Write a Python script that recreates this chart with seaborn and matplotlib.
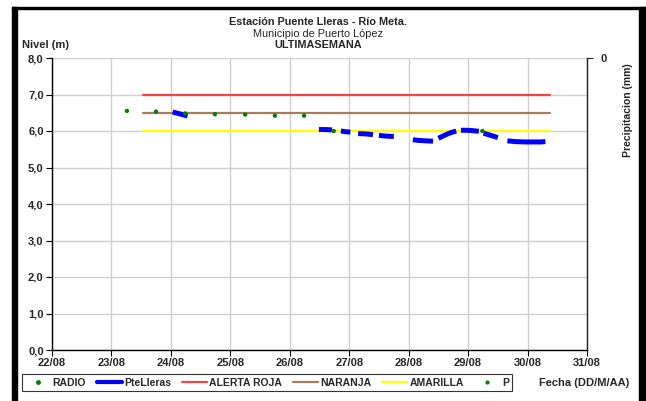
import matplotlib
matplotlib.use("Agg")
import matplotlib.pyplot as plt
import seaborn as sns
import numpy as np
import pandas as pd
from matplotlib.patches import Rectangle
from matplotlib.lines import Line2D
from matplotlib.ticker import FixedLocator, FuncFormatter

sns.set_theme(style="white")
plt.rcParams['font.family'] = ['Liberation Sans', 'DejaVu Sans']

# Lecturas de radio (día de agosto, nivel en m)
radio_dia = [23.26, 23.75, 24.24, 24.74, 25.25, 25.75, 26.24, 26.74, 29.24]
radio_nivel = [6.55, 6.53, 6.48, 6.46, 6.45, 6.42, 6.42, 6.00, 6.00]

# Sensor automático Puente Lleras, por tramos continuos
ptelleras_tramo = [1, 1, 1, 1, 1,
                   2, 2, 2,
                   3, 3, 3,
                   4, 4, 4,
                   5, 5, 5,
                   6, 6, 6, 6,
                   7, 7, 7, 7,
                   8, 8, 8, 8,
                   9, 9, 9,
                   10, 10, 10, 10, 10, 10]
ptelleras_dia = [24.03, 24.10, 24.17, 24.24, 24.28,
                 26.49, 26.60, 26.71,
                 26.86, 26.94, 27.02,
                 27.15, 27.28, 27.40,
                 27.50, 27.62, 27.75,
                 28.07, 28.18, 28.30, 28.41,
                 28.50, 28.60, 28.70, 28.80,
                 28.88, 28.98, 29.08, 29.18,
                 29.26, 29.38, 29.50,
                 29.66, 29.80, 29.95, 30.10, 30.22, 30.30]
ptelleras_nivel = [6.52, 6.49, 6.46, 6.43, 6.41,
                   6.04, 6.04, 6.03,
                   6.00, 5.98, 5.97,
                   5.93, 5.92, 5.90,
                   5.88, 5.86, 5.85,
                   5.76, 5.74, 5.73, 5.72,
                   5.80, 5.88, 5.95, 6.00,
                   6.02, 6.02, 6.01, 5.99,
                   5.94, 5.88, 5.82,
                   5.73, 5.71, 5.70, 5.70, 5.70, 5.71]

# Umbrales de alerta (m) y su periodo de vigencia
umbral_dia = [23.53, 30.38]
alerta_roja = [7.0, 7.0]
naranja = [6.5, 6.5]
amarilla = [6.0, 6.0]

dias_eje = list(range(22, 32))
etiquetas_x = [f"{d}/08" for d in dias_eje]
niveles_eje = [0, 1, 2, 3, 4, 5, 6, 7, 8]

df_radio = pd.DataFrame({"dia": radio_dia, "nivel": radio_nivel})
df_pte = pd.DataFrame({"dia": ptelleras_dia, "nivel": ptelleras_nivel, "tramo": ptelleras_tramo})

W, H = 646, 401
fig = plt.figure(figsize=(W / 100, H / 100), dpi=100)
ax = fig.add_axes([52 / W, 1 - 350 / H, (587 - 52) / W, (350 - 58) / H])

C_ROJA = "#F04545"
C_NAR = "#A67C5B"
C_AMA = "#FFFF00"
C_AZUL = "#0000FF"
C_VERDE = "#0A7A0A"

for vals, col in [(alerta_roja, C_ROJA), (naranja, C_NAR), (amarilla, C_AMA)]:
    sns.lineplot(x=umbral_dia, y=vals, color=col, lw=1.6, ax=ax, zorder=2)

sns.lineplot(data=df_pte, x="dia", y="nivel", units="tramo", estimator=None,
             color=C_AZUL, lw=3.6, ax=ax, zorder=3, solid_capstyle="butt")
sns.scatterplot(data=df_radio, x="dia", y="nivel", color=C_VERDE, s=10,
                edgecolor="none", ax=ax, zorder=4)

ax.set_xlim(22, 31)
ax.set_ylim(0, 8)
ax.xaxis.set_major_locator(FixedLocator(dias_eje))
ax.set_xticklabels(etiquetas_x)
ax.yaxis.set_major_locator(FixedLocator(niveles_eje))
ax.yaxis.set_major_formatter(FuncFormatter(lambda v, p: f"{v:.1f}".replace(".", ",")))
ax.grid(True, color="#CFCFCF", lw=1.0)
ax.set_axisbelow(True)
ax.set_xlabel("")
ax.set_ylabel("")
ax.spines["top"].set_visible(False)
ax.spines["right"].set_visible(False)
for s in ["left", "bottom"]:
    ax.spines[s].set_color("black")
    ax.spines[s].set_linewidth(1.0)
ax.tick_params(axis="both", direction="out", length=4, width=0.8, color="black",
               labelsize=8, pad=2, left=True, bottom=True)
for lab in ax.get_xticklabels() + ax.get_yticklabels():
    lab.set_fontweight("bold")

# Eje secundario de precipitación
ax2 = ax.twinx()
ax2.set_ylim(1, 0)
ax2.yaxis.set_major_locator(FixedLocator([0]))
ax2.set_yticklabels(["0"])
ax2.tick_params(axis="y", direction="out", length=4, width=0.8, labelsize=8, pad=6, right=True)
for lab in ax2.get_yticklabels():
    lab.set_fontweight("bold")
for s in ["top", "left", "bottom"]:
    ax2.spines[s].set_visible(False)
ax2.spines["right"].set_color("#222222")
ax2.spines["right"].set_linewidth(1.0)
ax2.grid(False)
ax2.set_ylabel("")

# Títulos
fig.text(318 / W, 1 - 22 / H, "Estación Puente Lleras - Río Meta.", ha="center", va="center",
         fontsize=7.8, fontweight="bold")
fig.text(318 / W, 1 - 34 / H, "Municipio de Puerto López", ha="center", va="center", fontsize=7.8)
fig.text(318 / W, 1 - 45 / H, "ULTIMASEMANA", ha="center", va="center", fontsize=7.8, fontweight="bold")
fig.text(22 / W, 1 - 45 / H, "Nivel (m)", ha="left", va="center", fontsize=8, fontweight="bold")
fig.text(628 / W, 1 - 110 / H, "Precipitacion (mm)", ha="center", va="center", rotation=90,
         fontsize=7.5, fontweight="bold")
fig.text(584 / W, 1 - 383 / H, "Fecha (DD/M/AA)", ha="center", va="center", fontsize=8, fontweight="bold")

# Leyenda
handles = [
    Line2D([], [], ls="none", marker="o", ms=2.5, color=C_VERDE),
    Line2D([], [], color=C_AZUL, lw=3),
    Line2D([], [], color=C_ROJA, lw=1.6),
    Line2D([], [], color=C_NAR, lw=1.6),
    Line2D([], [], color=C_AMA, lw=1.6),
    Line2D([], [], ls="none", marker="o", ms=2.0, color=C_VERDE),
]
labels = ["RADIO", "PteLleras", "ALERTA ROJA", "NARANJA", "AMARILLA", "P"]
leg = fig.legend(handles, labels, loc="center", ncol=6, mode="expand",
                 bbox_to_anchor=(22 / W, 1 - 392 / H, (512 - 22) / W, 19 / H),
                 frameon=True, fancybox=False, edgecolor="black", fontsize=7.5,
                 handlelength=2.4, handletextpad=0.2, columnspacing=0.8, borderpad=0.3,
                 borderaxespad=0)
leg.get_frame().set_linewidth(0.8)
for t in leg.get_texts():
    t.set_fontweight("bold")

# Marco exterior
fig.patches.append(Rectangle((12 / W, 0), 5 / W, 1 - 7 / H, transform=fig.transFigure,
                             color="black", zorder=10))
fig.patches.append(Rectangle((12 / W, 1 - 9 / H), 1 - 12 / W, 2 / H, transform=fig.transFigure,
                             color="black", zorder=10))
fig.patches.append(Rectangle((639 / W, 0), 7 / W, 1 - 7 / H, transform=fig.transFigure,
                             color="black", zorder=10))

fig.savefig("out.png", dpi=100)
